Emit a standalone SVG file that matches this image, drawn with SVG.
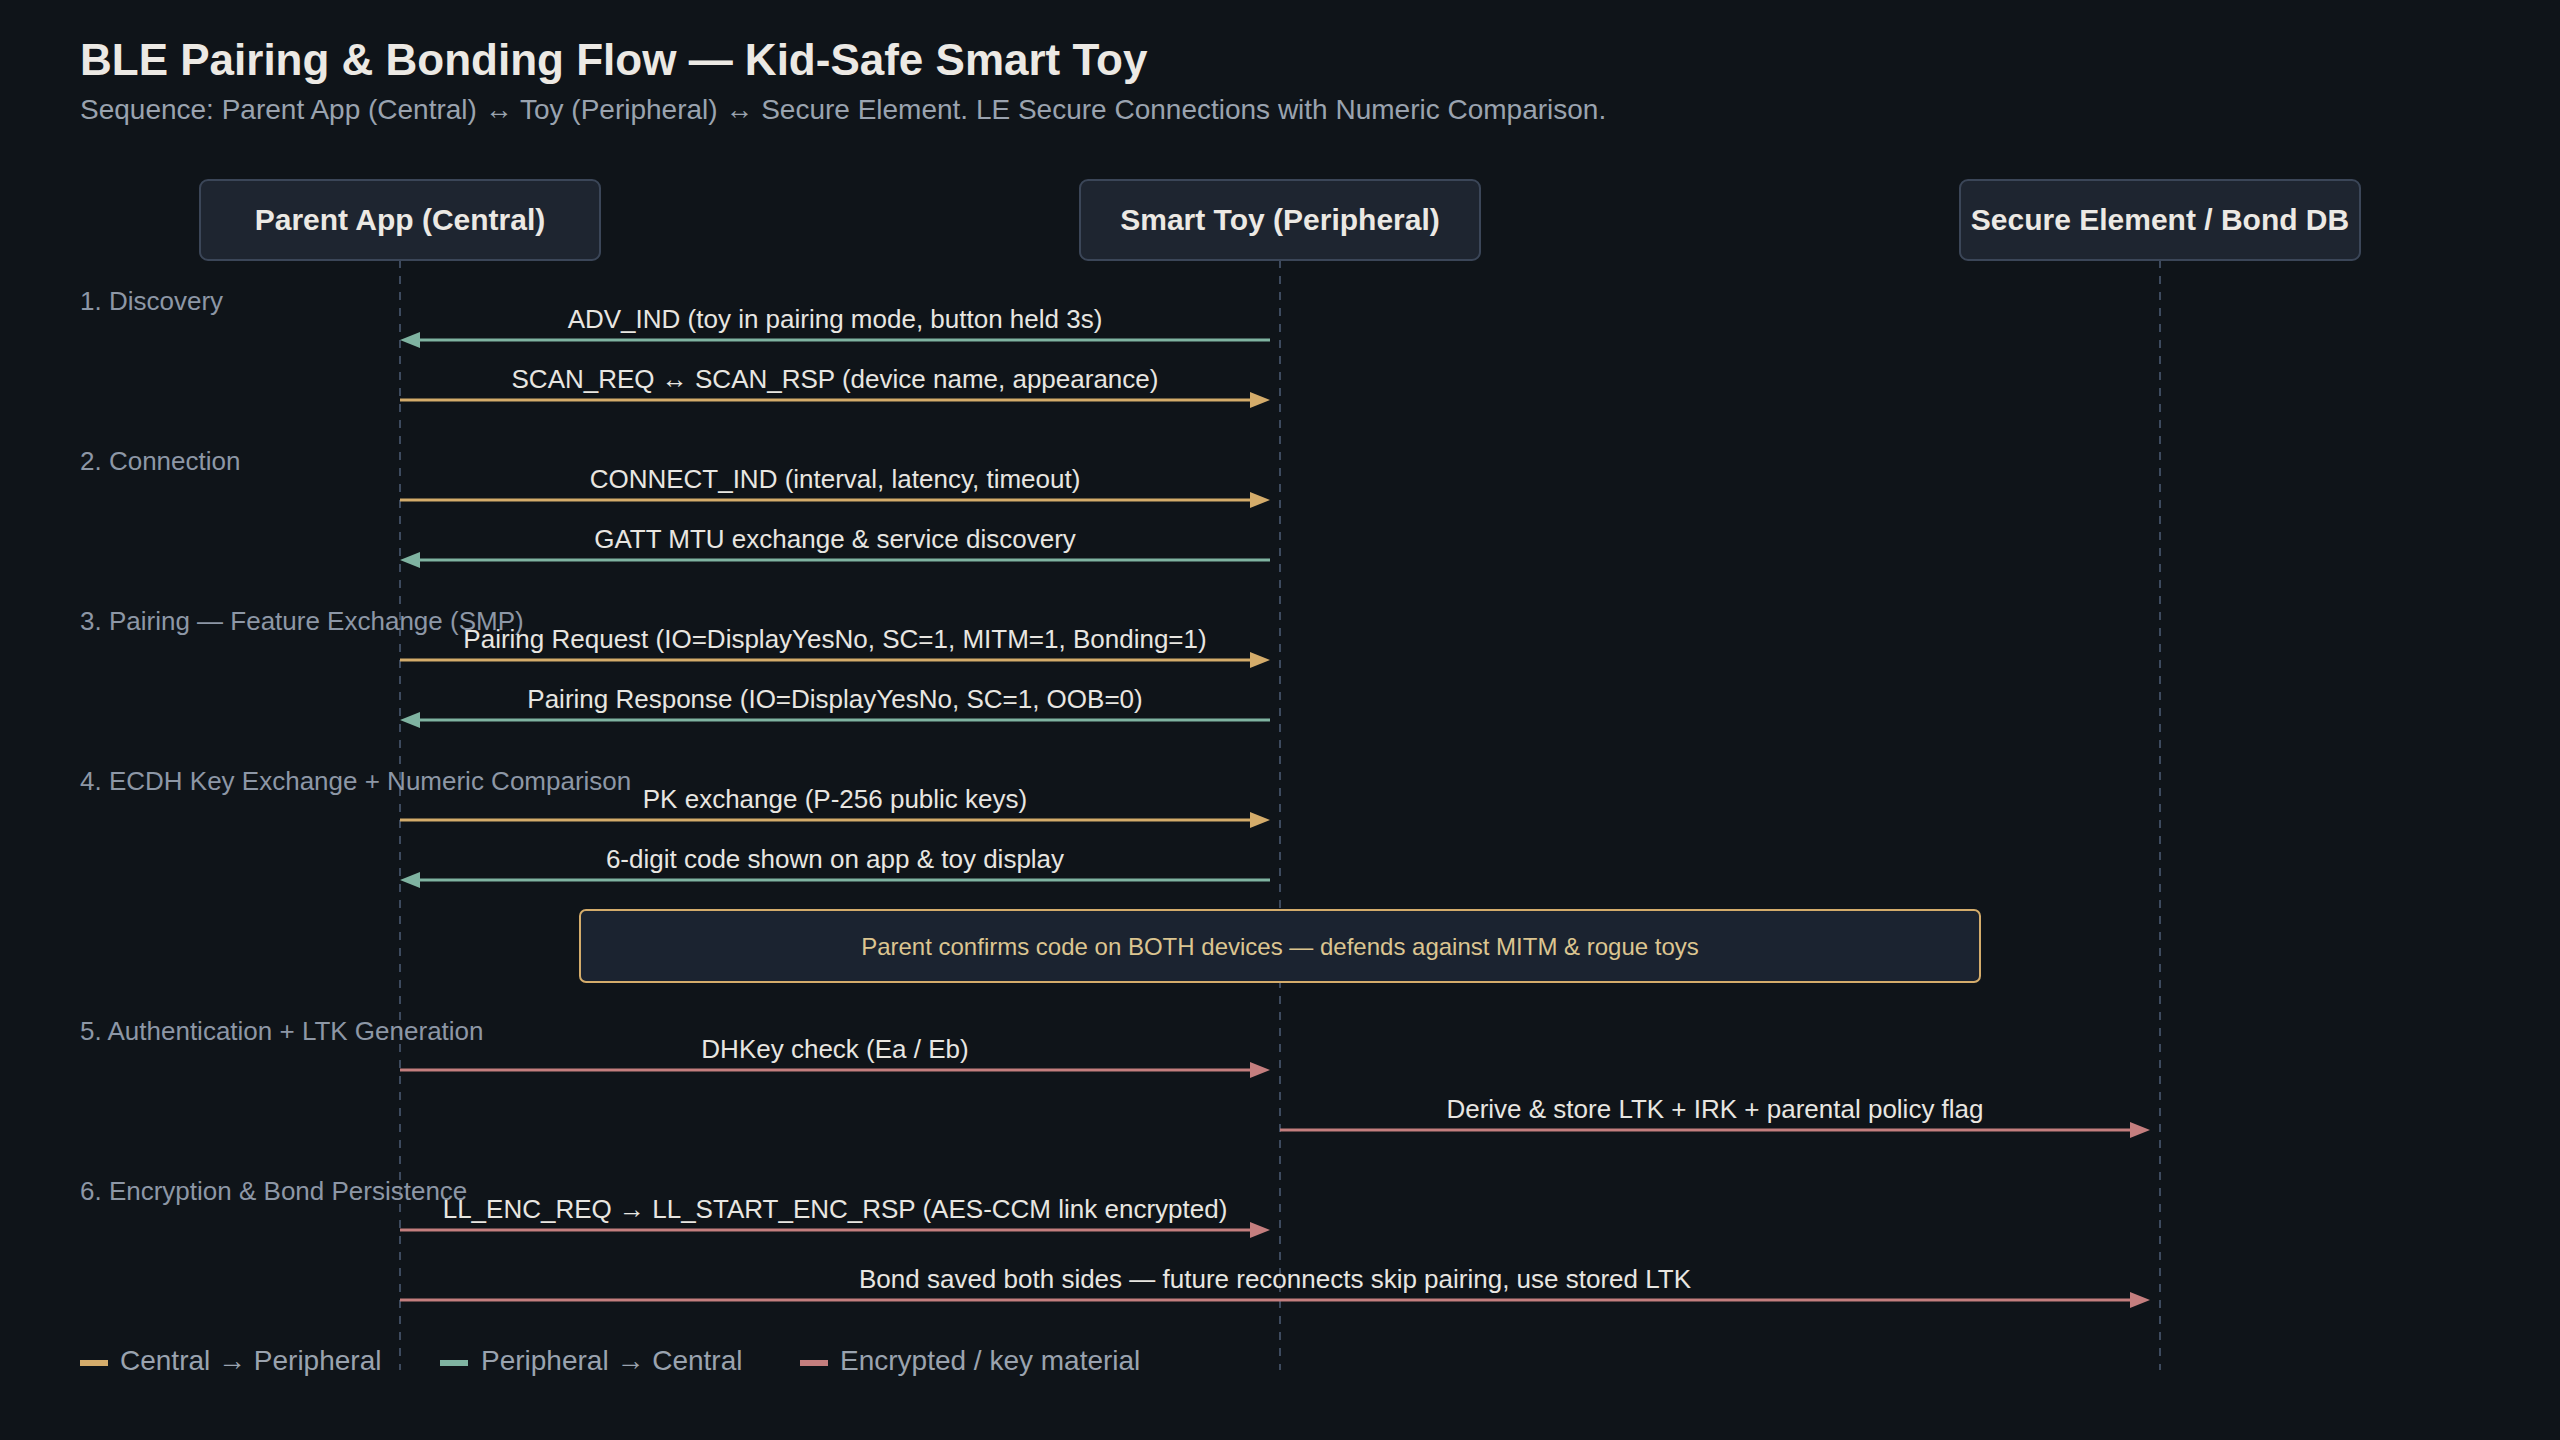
<svg xmlns="http://www.w3.org/2000/svg" width="2560" height="1440" viewBox="0 0 2560 1440">
<defs>
<style>
.bg{fill:#0f1419}
.title{font-family:"Liberation Sans",Arial,sans-serif;font-weight:bold;font-size:44px;fill:#ece9e4}
.sub{font-family:"Liberation Sans",Arial,sans-serif;font-size:28px;fill:#9aa3af}
.hdr rect{fill:#1e2530;stroke:#3b4658;stroke-width:2}
.hdr text{font-family:"Liberation Sans",Arial,sans-serif;font-weight:bold;font-size:30px;fill:#ece9e4;text-anchor:middle}
.life{stroke:#3d4a5e;stroke-width:2;stroke-dasharray:8 8;fill:none}
.phase{font-family:"Liberation Sans",Arial,sans-serif;font-size:26px;fill:#8d97a6}
.lbl{font-family:"Liberation Sans",Arial,sans-serif;font-size:26px;fill:#e8e6e1;text-anchor:middle}
.c2p{stroke:#d4ac6b;stroke-width:3;fill:none;marker-end:url(#hg)}
.p2c{stroke:#7fb3a1;stroke-width:3;fill:none;marker-end:url(#ht)}
.enc{stroke:#c47e7e;stroke-width:3;fill:none;marker-end:url(#hr)}
.note rect{fill:#1b2330;stroke:#d4ac6b;stroke-width:2}
.note text{font-family:"Liberation Sans",Arial,sans-serif;font-size:24px;fill:#dcc590;text-anchor:middle}
.leg{font-family:"Liberation Sans",Arial,sans-serif;font-size:28px;fill:#9aa3af}
</style>
<marker id="hg" markerUnits="userSpaceOnUse" markerWidth="20" markerHeight="16" refX="0" refY="8" orient="auto"><path d="M0,0 L20,8 L0,16 z" fill="#d4ac6b"/></marker>
<marker id="ht" markerUnits="userSpaceOnUse" markerWidth="20" markerHeight="16" refX="0" refY="8" orient="auto"><path d="M0,0 L20,8 L0,16 z" fill="#7fb3a1"/></marker>
<marker id="hr" markerUnits="userSpaceOnUse" markerWidth="20" markerHeight="16" refX="0" refY="8" orient="auto"><path d="M0,0 L20,8 L0,16 z" fill="#c47e7e"/></marker>
</defs>
<rect class="bg" x="0" y="0" width="2560" height="1440"/>
<text class="title" x="80" y="75">BLE Pairing &amp; Bonding Flow — Kid-Safe Smart Toy</text>
<text class="sub" x="80" y="119">Sequence: Parent App (Central) ↔ Toy (Peripheral) ↔ Secure Element. LE Secure Connections with Numeric Comparison.</text>

<g id="lifelines">
<line class="life" x1="400" y1="260" x2="400" y2="1370"/>
<line class="life" x1="1280" y1="260" x2="1280" y2="1370"/>
<line class="life" x1="2160" y1="260" x2="2160" y2="1370"/>
</g>

<g id="parent-app" class="hdr"><rect x="200" y="180" width="400" height="80" rx="8"/><text x="400" y="230">Parent App (Central)</text></g>
<g id="smart-toy" class="hdr"><rect x="1080" y="180" width="400" height="80" rx="8"/><text x="1280" y="230">Smart Toy (Peripheral)</text></g>
<g id="secure-element" class="hdr"><rect x="1960" y="180" width="400" height="80" rx="8"/><text x="2160" y="230">Secure Element / Bond DB</text></g>

<g id="phases">
<text class="phase" x="80" y="310">1. Discovery</text>
<text class="phase" x="80" y="470">2. Connection</text>
<text class="phase" x="80" y="630">3. Pairing — Feature Exchange (SMP)</text>
<text class="phase" x="80" y="790">4. ECDH Key Exchange + Numeric Comparison</text>
<text class="phase" x="80" y="1040">5. Authentication + LTK Generation</text>
<text class="phase" x="80" y="1200">6. Encryption &amp; Bond Persistence</text>
</g>

<g id="connectors">
<line class="p2c" x1="1270" y1="340" x2="420" y2="340"/>
<text class="lbl" x="835" y="328">ADV_IND (toy in pairing mode, button held 3s)</text>
<line class="c2p" x1="400" y1="400" x2="1250" y2="400"/>
<text class="lbl" x="835" y="388">SCAN_REQ ↔ SCAN_RSP (device name, appearance)</text>
<line class="c2p" x1="400" y1="500" x2="1250" y2="500"/>
<text class="lbl" x="835" y="488">CONNECT_IND (interval, latency, timeout)</text>
<line class="p2c" x1="1270" y1="560" x2="420" y2="560"/>
<text class="lbl" x="835" y="548">GATT MTU exchange &amp; service discovery</text>
<line class="c2p" x1="400" y1="660" x2="1250" y2="660"/>
<text class="lbl" x="835" y="648">Pairing Request (IO=DisplayYesNo, SC=1, MITM=1, Bonding=1)</text>
<line class="p2c" x1="1270" y1="720" x2="420" y2="720"/>
<text class="lbl" x="835" y="708">Pairing Response (IO=DisplayYesNo, SC=1, OOB=0)</text>
<line class="c2p" x1="400" y1="820" x2="1250" y2="820"/>
<text class="lbl" x="835" y="808">PK exchange (P-256 public keys)</text>
<line class="p2c" x1="1270" y1="880" x2="420" y2="880"/>
<text class="lbl" x="835" y="868">6-digit code shown on app &amp; toy display</text>
<line class="enc" x1="400" y1="1070" x2="1250" y2="1070"/>
<text class="lbl" x="835" y="1058">DHKey check (Ea / Eb)</text>
<line class="enc" x1="1280" y1="1130" x2="2130" y2="1130"/>
<text class="lbl" x="1715" y="1118">Derive &amp; store LTK + IRK + parental policy flag</text>
<line class="enc" x1="400" y1="1230" x2="1250" y2="1230"/>
<text class="lbl" x="835" y="1218">LL_ENC_REQ → LL_START_ENC_RSP (AES-CCM link encrypted)</text>
<line class="enc" x1="400" y1="1300" x2="2130" y2="1300"/>
<text class="lbl" x="1275" y="1288">Bond saved both sides — future reconnects skip pairing, use stored LTK</text>
</g>

<g id="note" class="note"><rect x="580" y="910" width="1400" height="72" rx="6"/><text x="1280" y="955">Parent confirms code on BOTH devices — defends against MITM &amp; rogue toys</text></g>

<g id="legend">
<rect x="80" y="1360" width="28" height="6" fill="#d4ac6b"/>
<text class="leg" x="120" y="1370">Central → Peripheral</text>
<rect x="440" y="1360" width="28" height="6" fill="#7fb3a1"/>
<text class="leg" x="481" y="1370">Peripheral → Central</text>
<rect x="800" y="1360" width="28" height="6" fill="#c47e7e"/>
<text class="leg" x="840" y="1370">Encrypted / key material</text>
</g>
</svg>
